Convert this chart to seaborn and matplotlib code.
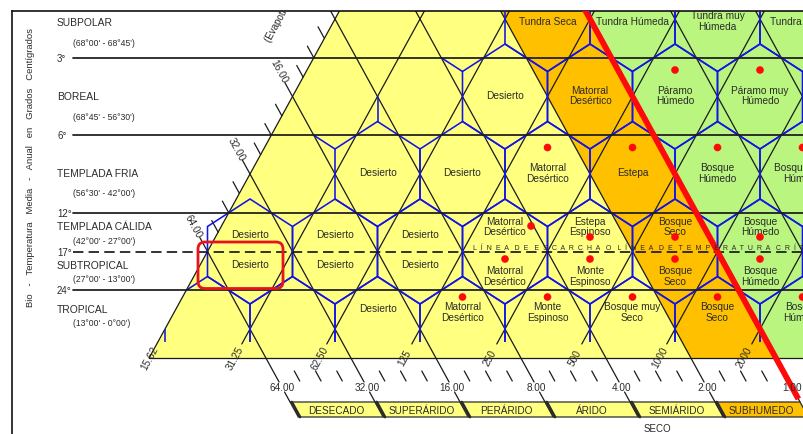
import math
import numpy as np
import pandas as pd
import matplotlib
matplotlib.use("Agg")
import matplotlib.pyplot as plt
from matplotlib.patches import Polygon, FancyBboxPatch
from matplotlib.transforms import IdentityTransform
import seaborn as sns

# ---------------------------------------------------------------- data
belt_names = ["SUBPOLAR", "BOREAL", "TEMPLADA FRIA", "TEMPLADA CÁLIDA", "SUBTROPICAL", "TROPICAL"]
belt_ranges = ["(68°00' - 68°45')", "(68°45' - 56°30')", "(56°30' - 42°00')",
               "(42°00' - 27°00')", "(27°00' - 13°00')", "(13°00' - 0°00')"]
limit_temps = [3, 6, 12, 17, 24]
limit_labels = ["3°", "6°", "12°", "17°", "24°"]
frost_temp = 17

precip_values = [15.625, 31.25, 62.5, 125, 250, 500, 1000, 2000]
precip_labels = ["15.62", "31.25", "62.50", "125", "250", "500", "1000", "2000"]

pet_values = [64, 32, 16, 8, 4, 2, 1, 0.5, 0.25]
pet_labels = ["64.00", "32.00", "16.00", "8.00", "4.00", "2.00", "1.00", "0.50", "0.25"]
subhumid_pet = 2.0
critical_pet = 1.0

province_names = ["DESECADO", "SUPERÁRIDO", "PERÁRIDO", "ÁRIDO", "SEMIÁRIDO", "SUBHUMEDO"]
province_group = "SECO"
frost_label = "LÍNEA DE ESCARCHA O LÍNEA DE TEMPERATURA CRÍTICA"
axis_label = "Bio - Temperatura Media - Anual en Grados Centígrados"
pet_axis_label = "(Evapotranspiración Potencial)"

# life zones: lattice row (0 = tropical), lattice column, hexagon part, red dot
zone_names = [
    "Desierto", "Matorral\nDesértico", "Monte\nEspinoso", "Bosque muy\nSeco", "Bosque\nSeco", "Bosque\nHúmedo",
    "Desierto", "Desierto", "Desierto", "Desierto", "Desierto", "Desierto",
    "Matorral\nDesértico", "Matorral\nDesértico", "Estepa\nEspinoso", "Monte\nEspinoso",
    "Bosque\nSeco", "Bosque\nSeco", "Bosque\nHúmedo", "Bosque\nHúmedo",
    "Desierto", "Desierto", "Matorral\nDesértico", "Estepa", "Bosque\nHúmedo", "Bosque muy\nHúmedo",
    "Desierto", "Matorral\nDesértico", "Páramo\nHúmedo", "Páramo muy\nHúmedo",
    "Tundra Seca", "Tundra Húmeda", "Tundra muy\nHúmeda", "Tundra Pluvial",
]
zone_rows = [0, 0, 0, 0, 0, 0,
             1, 1, 1, 1, 1, 1, 1, 1, 1, 1, 1, 1, 1, 1,
             2, 2, 2, 2, 2, 2,
             3, 3, 3, 3,
             4, 4, 4, 4]
zone_cols = [5, 7, 9, 11, 13, 15,
             2, 2, 4, 4, 6, 6, 8, 8, 10, 10, 12, 12, 14, 14,
             5, 7, 9, 11, 13, 15,
             8, 10, 12, 14,
             9, 11, 13, 15]
zone_parts = ["full"] * 6 + ["upper", "lower"] * 7 + ["full"] * 14
zone_dots = ["", "above", "above", "above", "above", "above",
             "", "", "", "", "", "",
             "right", "above", "below", "above", "below", "above", "below", "above",
             "", "", "above", "above", "above", "above",
             "", "", "above", "above",
             "", "", "", ""]
highlight_zone = 7          # lower "Desierto" of the warm-temperate / subtropical hexagon

# ---------------------------------------------------------------- style
YELLOW, ORANGE, GREEN = "#FFFF80", "#FFC000", "#B9F57F"
BLUE, RED, INK, LINE = "#1414E6", "#FF0A0A", "#2b2b2b", "#1a1a1a"

sns.set_theme(style="white")
plt.rcParams["font.family"] = ["Liberation Sans", "DejaVu Sans"]

W, H = 804, 435
fig = plt.figure(figsize=(W / 100, H / 100), dpi=100)

# lattice geometry: pixels per lattice unit
PX_U, PX_V = 42.5, 77.5
U0, V0 = 165.0, 330.0
def U(px): return (px - U0) / PX_U
def V(py): return (V0 - py) / PX_V
def temp_v(t): return 4.5 - np.log2(t / 1.5)
def precip_c(p): return 2 * np.log2(p / 15.625)     # line: u - v = c
def pet_c(r): return 2 * np.log2(128.0 / r)         # line: u + v = c

ANG = math.degrees(math.atan2(PX_V, PX_U))
S2, TP = 25 / PX_V, 52.5 / PX_V
TOPV = 4.7

L_, R_, T_, B_ = 12, 830, 12, 440
ax = fig.add_axes([L_ / W, (H - B_) / H, (R_ - L_) / W, (B_ - T_) / H])
ax.set_facecolor("white")

def hex_verts(h, r):
    return [(h, r + TP), (h + 1, r + S2), (h + 1, r - S2), (h, r - TP), (h - 1, r - S2), (h - 1, r + S2)]

def segs_plot(segs, **kw):
    rows = []
    for k, (a, b) in enumerate(segs):
        rows.append((k, a[0], a[1]))
        rows.append((k, b[0], b[1]))
    df = pd.DataFrame(rows, columns=["seg", "u", "v"])
    sns.lineplot(data=df, x="u", y="v", units="seg", estimator=None, sort=False,
                 legend=False, ax=ax, **kw)

VB = V(359)

# ---------------------------------------------------------------- fills
tri_pts = [(VB, VB), (TOPV, TOPV), (20, TOPV), (20, VB)]
ax.add_patch(Polygon(tri_pts, closed=True, fc=YELLOW, ec="none", zorder=1))
c_sub, c_crit = pet_c(subhumid_pet), pet_c(critical_pet)
ax.add_patch(Polygon([(c_sub - VB, VB), (c_sub - TOPV, TOPV), (c_crit - TOPV, TOPV), (c_crit - VB, VB)],
                     closed=True, fc=ORANGE, ec="none", zorder=1.1))
ax.add_patch(Polygon([(c_crit - VB, VB), (c_crit - TOPV, TOPV), (20, TOPV), (20, VB)],
                     closed=True, fc=GREEN, ec="none", zorder=1.1))

# ---------------------------------------------------------------- black guide lines
segs = []
for k, p in enumerate(precip_values):
    c = precip_c(p)
    vlow = VB if k == 0 else V(345)
    segs.append(((c + vlow, vlow), (c + TOPV, TOPV)))
segs.append(((VB, VB), (20, VB)))
for r in pet_values:
    c = pet_c(r)
    i = c / 2
    vs = min(i + 0.18, TOPV)
    segs.append(((c - vs, vs), (c - V(383), V(383))))
    segs.append(((c - V(393), V(393)), (c - V(403), V(403))))
    # minor ticks
    for f in (0.25, 0.5, 0.75):
        cm = c + 2 * f
        im = cm / 2
        if im < TOPV:
            segs.append(((im, im), (im - 0.15, im + 0.15)))
        if r >= critical_pet:
            segs.append(((cm - V(372), V(372)), (cm - V(382), V(382))))
segs_plot(segs, color=LINE, linewidth=0.9, zorder=2)

# horizontal biotemperature limits
for t in limit_temps:
    vv = temp_v(t)
    ax.plot([U(73), U(R_)], [vv, vv], color=LINE, lw=1.25, zorder=3.5,
            ls=(0, (6, 3)) if t == frost_temp else "-")

# ---------------------------------------------------------------- blue hexagons
clip_pts = [(V(343), V(343)), (TOPV, TOPV), (20, TOPV), (20, V(343))]
clip_poly = Polygon(clip_pts, closed=True, transform=ax.transData)
outlined = set(zip(zone_rows, zone_cols))
first_base = min(c for r, c in outlined if r == 0)
for h in range(1, first_base, 2):
    outlined.add((0, h))
for (r, h) in sorted(outlined):
    pg = Polygon(hex_verts(h, r), closed=True, fill=False, ec=BLUE, lw=1.15, zorder=3)
    ax.add_patch(pg)
    if r == 0:
        pg.set_clip_path(clip_poly)
stubs = []
for (r, h, kind) in [(2, 5, "top"), (2, 5, "topleft"), (3, 8, "topleft")]:
    if kind == "top":
        stubs.append(((h, r + TP), (h, r + 1)))
    else:
        a = (h - 1, r + S2)
        stubs.append((a, (a[0] - 0.5, a[1] + (TP - S2) / 2)))
segs_plot(stubs, color=BLUE, linewidth=1.15, zorder=3)

# critical (PET = 1) line
ax.plot([c_crit - TOPV, c_crit - V(400)], [TOPV, V(400)], color=RED, lw=4.2,
        solid_capstyle="butt", zorder=4)

# ---------------------------------------------------------------- province boxes
for k, name in enumerate(province_names):
    cl, cr = pet_c(pet_values[k]), pet_c(pet_values[k + 1])
    vt, vb = V(403), V(418)
    fc = ORANGE if pet_values[k] <= subhumid_pet else YELLOW
    ax.add_patch(Polygon([(cl - vt, vt), (cr - vt, vt), (cr - vb, vb), (cl - vb, vb)],
                         closed=True, fc=fc, ec=INK, lw=0.9, zorder=3))
    ax.plot([cl - vt + 0.04, cl - vb + 0.04], [vt, vb], color=INK, lw=2.0, zorder=3.2)
    vm = V(410.5)
    ax.text((cl + cr) / 2 - vm, vm, name, ha="center", va="center", fontsize=7.2, color=INK, zorder=5)
ax.text(U(657), V(429), province_group, ha="center", va="center", fontsize=7, color=INK)

# ---------------------------------------------------------------- axis labels
v_top_visible = V(T_)
for p, lab in zip(precip_values, precip_labels):
    c = precip_c(p)
    vv = V(358)
    ax.text(c + vv, vv, lab, rotation=ANG, rotation_mode="anchor", ha="center", va="center",
            fontsize=7.2, color=INK, zorder=5, clip_on=True)
for r, lab in zip(pet_values, pet_labels):
    c = pet_c(r)
    vv = V(388)
    if c - vv < U(R_):
        ax.text(c - vv, vv, lab, ha="center", va="center", fontsize=7.2, color=INK, zorder=5)
    i = c / 2
    if i + 0.5 < v_top_visible:
        ax.text(i - 0.33, i + 0.33, lab, rotation=-ANG, rotation_mode="anchor", ha="center",
                va="center", fontsize=7.2, color=INK, zorder=5)
ax.text(U(268), V(42), pet_axis_label, rotation=ANG, rotation_mode="anchor", ha="left", va="center",
        fontsize=7, color=INK, clip_on=True)

belt_name_y = [23, 97, 174, 227, 266, 310]
belt_range_y = [43, 117, 193, 241, 280, 323]
for name, rng, yn, yr in zip(belt_names, belt_ranges, belt_name_y, belt_range_y):
    ax.text(U(57), V(yn), name, ha="left", va="center", fontsize=7.4, color=INK)
    ax.text(U(73), V(yr), rng, ha="left", va="center", fontsize=6.2, color=INK)
for t, lab in zip(limit_temps, limit_labels):
    ax.text(U(57), temp_v(t), lab, ha="left", va="center", fontsize=7, color=INK)
ax.text(U(30), V(167), "   ".join(axis_label.split(" ")), rotation=90, ha="center", va="center",
        fontsize=6.8, color=INK)

spaced = "   ".join("  ".join(list(w)) for w in frost_label.split(" "))
ax.text(U(473), V(248), spaced, ha="left", va="center", fontsize=5.0, color=INK, zorder=5, clip_on=True)

# ---------------------------------------------------------------- zone labels and dots
dot_u, dot_v = [], []
for name, r, h, part, dot in zip(zone_names, zone_rows, zone_cols, zone_parts, zone_dots):
    two = "\n" in name
    if part == "upper":
        dy = -25.5 if two else -17.5
    elif part == "lower":
        dy = 24 if two else 12.5
    elif r == 0:
        dy = -17.5 if two else -21
    elif r == 4:
        dy = 1.5
    else:
        dy = -1.5
    ax.text(h, r - dy / PX_V, name, ha="center", va="center", fontsize=7.3, linespacing=1.05,
            color=INK, zorder=5, clip_on=True)
    if dot:
        dx = 0
        if dot == "right":
            dx, ddy = 26, -25.5
        elif dot == "below":
            ddy = -14.5
        elif part == "lower":
            ddy = 7.5
        elif r == 0:
            ddy = -32
        else:
            ddy = -26.5
        dot_u.append(h + dx / PX_U)
        dot_v.append(r - ddy / PX_V)
sns.scatterplot(x=dot_u, y=dot_v, color=RED, s=30, edgecolor="none", ax=ax, zorder=6, legend=False)

# ---------------------------------------------------------------- axes frame
ax.set_xlim(U(L_), U(R_))
ax.set_ylim(V(B_), V(T_))
ax.set_xlabel("")
ax.set_ylabel("")
ax.set_xticks([])
ax.set_yticks([])
for side in ("right", "bottom"):
    ax.spines[side].set_visible(False)
for side in ("left", "top"):
    ax.spines[side].set_color("#111111")
    ax.spines[side].set_linewidth(1.2)

# highlight box (pixel space around zone centre)
fig.canvas.draw()
cx, cy = ax.transData.transform((zone_cols[highlight_zone], zone_rows[highlight_zone]))
box = FancyBboxPatch((cx - 52, cy - 37), 85, 46.5, boxstyle="round,pad=0,rounding_size=7",
                     transform=IdentityTransform(), fill=False, ec="#E8141B", lw=2.0, zorder=7)
ax.add_patch(box)

fig.savefig("out.png", dpi=100)
